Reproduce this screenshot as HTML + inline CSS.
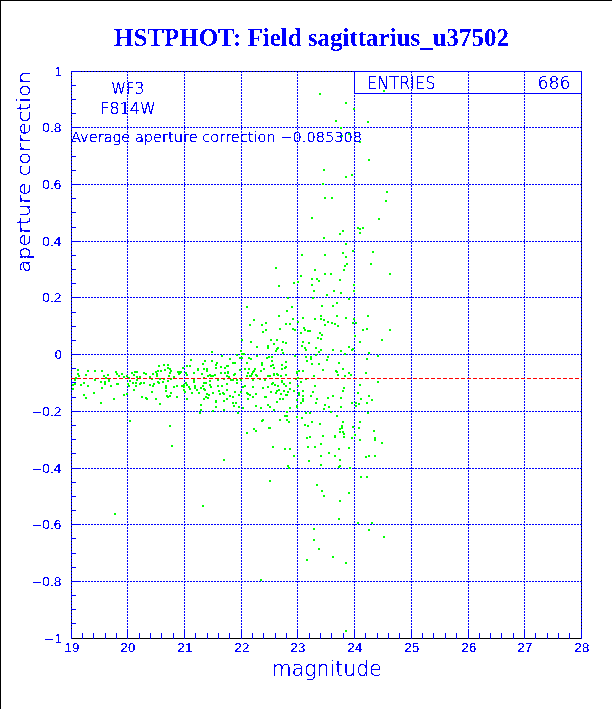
<!DOCTYPE html>
<html><head><meta charset="utf-8"><style>
html,body{margin:0;padding:0;background:#fff;}
svg{display:block;}
.lab{font-family:"Liberation Sans",sans-serif;font-size:12.5px;fill:#0000ff;}
.ttl{font-family:"DejaVu Sans","Liberation Sans",sans-serif;font-weight:200;fill:#0000ff;stroke:#0000ff;stroke-width:0.3px;}
</style></head><body>
<svg width="612" height="709" viewBox="0 0 612 709">
<rect x="0" y="0" width="612" height="709" fill="#fff"/>
<path d="M0 0H612V1H1V709H0Z" fill="#000"/>
<g shape-rendering="crispEdges">
<line x1="127.5" y1="71" x2="127.5" y2="638" stroke="#0000ff" stroke-dasharray="2 1"/>
<line x1="184.5" y1="71" x2="184.5" y2="638" stroke="#0000ff" stroke-dasharray="2 1"/>
<line x1="241.5" y1="71" x2="241.5" y2="638" stroke="#0000ff" stroke-dasharray="2 1"/>
<line x1="297.5" y1="71" x2="297.5" y2="638" stroke="#0000ff" stroke-dasharray="2 1"/>
<line x1="354.5" y1="71" x2="354.5" y2="638" stroke="#0000ff" stroke-dasharray="2 1"/>
<line x1="411.5" y1="71" x2="411.5" y2="638" stroke="#0000ff" stroke-dasharray="2 1"/>
<line x1="468.5" y1="71" x2="468.5" y2="638" stroke="#0000ff" stroke-dasharray="2 1"/>
<line x1="524.5" y1="71" x2="524.5" y2="638" stroke="#0000ff" stroke-dasharray="2 1"/>
<line x1="73" y1="127.5" x2="581" y2="127.5" stroke="#0000ff" stroke-dasharray="2 1"/>
<line x1="73" y1="184.5" x2="581" y2="184.5" stroke="#0000ff" stroke-dasharray="2 1"/>
<line x1="73" y1="241.5" x2="581" y2="241.5" stroke="#0000ff" stroke-dasharray="2 1"/>
<line x1="73" y1="297.5" x2="581" y2="297.5" stroke="#0000ff" stroke-dasharray="2 1"/>
<line x1="73" y1="354.5" x2="581" y2="354.5" stroke="#0000ff" stroke-dasharray="2 1"/>
<line x1="73" y1="411.5" x2="581" y2="411.5" stroke="#0000ff" stroke-dasharray="2 1"/>
<line x1="73" y1="468.5" x2="581" y2="468.5" stroke="#0000ff" stroke-dasharray="2 1"/>
<line x1="73" y1="524.5" x2="581" y2="524.5" stroke="#0000ff" stroke-dasharray="2 1"/>
<line x1="73" y1="581.5" x2="581" y2="581.5" stroke="#0000ff" stroke-dasharray="2 1"/>
<line x1="71.5" y1="71" x2="71.5" y2="639" stroke="#0000ff"/>
<line x1="71" y1="71.5" x2="582" y2="71.5" stroke="#0000ff"/>
<line x1="581.5" y1="71" x2="581.5" y2="639" stroke="#0000ff"/>
<line x1="71.5" y1="73" x2="71.5" y2="638" stroke="#000" stroke-dasharray="1 2"/>
<line x1="81" y1="71.5" x2="354" y2="71.5" stroke="#000" stroke-dasharray="1 2"/>
<line x1="581.5" y1="94" x2="581.5" y2="638" stroke="#000" stroke-dasharray="1 2"/>
<line x1="71" y1="638.5" x2="582" y2="638.5" stroke="#000"/>
<path d="M71.5 639V629M82.5 639V633M93.5 639V633M105.5 639V633M116.5 639V633M127.5 639V629M139.5 639V633M150.5 639V633M161.5 639V633M173.5 639V633M184.5 639V629M195.5 639V633M207.5 639V633M218.5 639V633M229.5 639V633M241.5 639V629M252.5 639V633M263.5 639V633M275.5 639V633M286.5 639V633M297.5 639V629M309.5 639V633M320.5 639V633M331.5 639V633M343.5 639V633M354.5 639V629M365.5 639V633M377.5 639V633M388.5 639V633M399.5 639V633M411.5 639V629M422.5 639V633M433.5 639V633M445.5 639V633M456.5 639V633M468.5 639V629M479.5 639V633M490.5 639V633M501.5 639V633M513.5 639V633M524.5 639V629M535.5 639V633M547.5 639V633M558.5 639V633M569.5 639V633M581.5 639V629M71 71.5H81M71 85.5H76M71 99.5H76M71 113.5H76M71 127.5H81M71 141.5H76M71 156.5H76M71 170.5H76M71 184.5H81M71 198.5H76M71 212.5H76M71 227.5H76M71 241.5H81M71 255.5H76M71 269.5H76M71 283.5H76M71 297.5H81M71 312.5H76M71 326.5H76M71 340.5H76M71 354.5H81M71 368.5H76M71 382.5H76M71 397.5H76M71 411.5H81M71 425.5H76M71 439.5H76M71 453.5H76M71 468.5H81M71 482.5H76M71 496.5H76M71 510.5H76M71 524.5H81M71 538.5H76M71 553.5H76M71 567.5H76M71 581.5H81M71 595.5H76M71 609.5H76M71 623.5H76" stroke="#0000ff" fill="none"/>
<g fill="#00ff00"><rect x="319" y="93" width="2" height="2"/><rect x="345" y="102" width="2" height="2"/><rect x="353" y="108" width="2" height="2"/><rect x="335" y="120" width="2" height="2"/><rect x="367" y="121" width="2" height="2"/><rect x="340" y="127" width="2" height="2"/><rect x="359" y="141" width="2" height="2"/><rect x="368" y="159" width="2" height="2"/><rect x="323" y="169" width="2" height="2"/><rect x="383" y="90" width="2" height="2"/><rect x="341" y="135" width="2" height="2"/><rect x="348" y="133" width="2" height="2"/><rect x="345" y="176" width="2" height="2"/><rect x="351" y="174" width="2" height="2"/><rect x="322" y="183" width="2" height="2"/><rect x="386" y="191" width="2" height="2"/><rect x="324" y="197" width="2" height="2"/><rect x="331" y="197" width="2" height="2"/><rect x="385" y="200" width="2" height="2"/><rect x="311" y="217" width="2" height="2"/><rect x="378" y="218" width="2" height="2"/><rect x="357" y="227" width="2" height="2"/><rect x="359" y="228" width="2" height="2"/><rect x="362" y="227" width="2" height="2"/><rect x="359" y="232" width="2" height="2"/><rect x="342" y="230" width="2" height="2"/><rect x="339" y="233" width="2" height="2"/><rect x="323" y="237" width="2" height="2"/><rect x="345" y="243" width="2" height="2"/><rect x="352" y="250" width="2" height="2"/><rect x="372" y="251" width="2" height="2"/><rect x="301" y="254" width="2" height="2"/><rect x="324" y="254" width="2" height="2"/><rect x="342" y="252" width="2" height="2"/><rect x="345" y="256" width="2" height="2"/><rect x="346" y="263" width="2" height="2"/><rect x="344" y="265" width="2" height="2"/><rect x="370" y="263" width="2" height="2"/><rect x="314" y="269" width="2" height="2"/><rect x="343" y="269" width="2" height="2"/><rect x="275" y="267" width="2" height="2"/><rect x="300" y="275" width="2" height="2"/><rect x="293" y="282" width="2" height="2"/><rect x="297" y="281" width="2" height="2"/><rect x="278" y="285" width="2" height="2"/><rect x="287" y="297" width="2" height="2"/><rect x="246" y="306" width="2" height="2"/><rect x="291" y="306" width="2" height="2"/><rect x="286" y="310" width="2" height="2"/><rect x="278" y="315" width="2" height="2"/><rect x="253" y="319" width="2" height="2"/><rect x="249" y="324" width="2" height="2"/><rect x="261" y="324" width="2" height="2"/><rect x="265" y="322" width="2" height="2"/><rect x="285" y="323" width="2" height="2"/><rect x="289" y="323" width="2" height="2"/><rect x="292" y="318" width="2" height="2"/><rect x="302" y="317" width="2" height="2"/><rect x="297" y="321" width="2" height="2"/><rect x="262" y="331" width="2" height="2"/><rect x="265" y="329" width="2" height="2"/><rect x="279" y="328" width="2" height="2"/><rect x="292" y="328" width="2" height="2"/><rect x="294" y="329" width="2" height="2"/><rect x="303" y="327" width="2" height="2"/><rect x="304" y="329" width="2" height="2"/><rect x="300" y="332" width="2" height="2"/><rect x="307" y="330" width="2" height="2"/><rect x="309" y="330" width="2" height="2"/><rect x="241" y="339" width="2" height="2"/><rect x="270" y="339" width="2" height="2"/><rect x="276" y="339" width="2" height="2"/><rect x="324" y="273" width="2" height="2"/><rect x="330" y="273" width="2" height="2"/><rect x="389" y="273" width="2" height="2"/><rect x="311" y="278" width="2" height="2"/><rect x="316" y="278" width="2" height="2"/><rect x="318" y="280" width="2" height="2"/><rect x="339" y="279" width="2" height="2"/><rect x="311" y="284" width="2" height="2"/><rect x="353" y="284" width="2" height="2"/><rect x="313" y="290" width="2" height="2"/><rect x="333" y="290" width="2" height="2"/><rect x="353" y="290" width="2" height="2"/><rect x="326" y="294" width="2" height="2"/><rect x="340" y="292" width="2" height="2"/><rect x="312" y="297" width="2" height="2"/><rect x="348" y="298" width="2" height="2"/><rect x="336" y="302" width="2" height="2"/><rect x="321" y="305" width="2" height="2"/><rect x="332" y="305" width="2" height="2"/><rect x="320" y="315" width="2" height="2"/><rect x="336" y="315" width="2" height="2"/><rect x="314" y="318" width="2" height="2"/><rect x="320" y="318" width="2" height="2"/><rect x="323" y="319" width="2" height="2"/><rect x="345" y="317" width="2" height="2"/><rect x="353" y="318" width="2" height="2"/><rect x="367" y="315" width="2" height="2"/><rect x="327" y="321" width="2" height="2"/><rect x="331" y="322" width="2" height="2"/><rect x="334" y="323" width="2" height="2"/><rect x="324" y="324" width="2" height="2"/><rect x="337" y="325" width="2" height="2"/><rect x="352" y="322" width="2" height="2"/><rect x="355" y="322" width="2" height="2"/><rect x="362" y="329" width="2" height="2"/><rect x="366" y="328" width="2" height="2"/><rect x="389" y="329" width="2" height="2"/><rect x="319" y="332" width="2" height="2"/><rect x="321" y="334" width="2" height="2"/><rect x="317" y="337" width="2" height="2"/><rect x="320" y="338" width="2" height="2"/><rect x="354" y="335" width="2" height="2"/><rect x="381" y="339" width="2" height="2"/><rect x="77" y="369" width="2" height="2"/><rect x="87" y="370" width="2" height="2"/><rect x="94" y="370" width="2" height="2"/><rect x="101" y="370" width="2" height="2"/><rect x="77" y="373" width="2" height="2"/><rect x="78" y="375" width="2" height="2"/><rect x="85" y="374" width="2" height="2"/><rect x="103" y="375" width="2" height="2"/><rect x="107" y="374" width="2" height="2"/><rect x="115" y="371" width="2" height="2"/><rect x="116" y="373" width="2" height="2"/><rect x="118" y="375" width="2" height="2"/><rect x="121" y="373" width="2" height="2"/><rect x="123" y="376" width="2" height="2"/><rect x="126" y="375" width="2" height="2"/><rect x="75" y="377" width="2" height="2"/><rect x="105" y="377" width="2" height="2"/><rect x="74" y="379" width="2" height="2"/><rect x="108" y="378" width="2" height="2"/><rect x="108" y="380" width="2" height="2"/><rect x="94" y="379" width="2" height="2"/><rect x="128" y="377" width="2" height="2"/><rect x="129" y="380" width="2" height="2"/><rect x="100" y="381" width="2" height="2"/><rect x="104" y="381" width="2" height="2"/><rect x="104" y="383" width="2" height="2"/><rect x="83" y="382" width="2" height="2"/><rect x="72" y="384" width="2" height="2"/><rect x="74" y="383" width="2" height="2"/><rect x="80" y="384" width="2" height="2"/><rect x="87" y="385" width="2" height="2"/><rect x="116" y="383" width="2" height="2"/><rect x="117" y="383" width="2" height="2"/><rect x="110" y="385" width="2" height="2"/><rect x="127" y="383" width="2" height="2"/><rect x="128" y="385" width="2" height="2"/><rect x="101" y="387" width="2" height="2"/><rect x="72" y="388" width="2" height="2"/><rect x="93" y="392" width="2" height="2"/><rect x="83" y="394" width="2" height="2"/><rect x="85" y="397" width="2" height="2"/><rect x="126" y="393" width="2" height="2"/><rect x="123" y="394" width="2" height="2"/><rect x="113" y="398" width="2" height="2"/><rect x="100" y="402" width="2" height="2"/><rect x="129" y="420" width="2" height="2"/><rect x="158" y="365" width="2" height="2"/><rect x="163" y="364" width="2" height="2"/><rect x="167" y="364" width="2" height="2"/><rect x="167" y="367" width="2" height="2"/><rect x="169" y="368" width="2" height="2"/><rect x="170" y="370" width="2" height="2"/><rect x="169" y="372" width="2" height="2"/><rect x="168" y="375" width="2" height="2"/><rect x="157" y="370" width="2" height="2"/><rect x="155" y="371" width="2" height="2"/><rect x="160" y="370" width="2" height="2"/><rect x="164" y="369" width="2" height="2"/><rect x="156" y="373" width="2" height="2"/><rect x="156" y="375" width="2" height="2"/><rect x="152" y="373" width="2" height="2"/><rect x="149" y="376" width="2" height="2"/><rect x="131" y="372" width="2" height="2"/><rect x="134" y="371" width="2" height="2"/><rect x="136" y="371" width="2" height="2"/><rect x="133" y="374" width="2" height="2"/><rect x="136" y="376" width="2" height="2"/><rect x="139" y="376" width="2" height="2"/><rect x="143" y="372" width="2" height="2"/><rect x="145" y="373" width="2" height="2"/><rect x="178" y="371" width="2" height="2"/><rect x="179" y="372" width="2" height="2"/><rect x="180" y="371" width="2" height="2"/><rect x="177" y="371" width="2" height="2"/><rect x="178" y="373" width="2" height="2"/><rect x="182" y="367" width="2" height="2"/><rect x="186" y="365" width="2" height="2"/><rect x="185" y="372" width="2" height="2"/><rect x="186" y="374" width="2" height="2"/><rect x="173" y="376" width="2" height="2"/><rect x="151" y="378" width="2" height="2"/><rect x="159" y="378" width="2" height="2"/><rect x="163" y="378" width="2" height="2"/><rect x="170" y="378" width="2" height="2"/><rect x="136" y="379" width="2" height="2"/><rect x="162" y="381" width="2" height="2"/><rect x="167" y="380" width="2" height="2"/><rect x="132" y="382" width="2" height="2"/><rect x="135" y="382" width="2" height="2"/><rect x="135" y="385" width="2" height="2"/><rect x="140" y="382" width="2" height="2"/><rect x="139" y="383" width="2" height="2"/><rect x="143" y="382" width="2" height="2"/><rect x="157" y="381" width="2" height="2"/><rect x="158" y="382" width="2" height="2"/><rect x="149" y="384" width="2" height="2"/><rect x="152" y="385" width="2" height="2"/><rect x="153" y="383" width="2" height="2"/><rect x="165" y="385" width="2" height="2"/><rect x="165" y="387" width="2" height="2"/><rect x="165" y="390" width="2" height="2"/><rect x="173" y="386" width="2" height="2"/><rect x="176" y="385" width="2" height="2"/><rect x="181" y="385" width="2" height="2"/><rect x="183" y="384" width="2" height="2"/><rect x="185" y="382" width="2" height="2"/><rect x="186" y="384" width="2" height="2"/><rect x="183" y="386" width="2" height="2"/><rect x="183" y="389" width="2" height="2"/><rect x="184" y="391" width="2" height="2"/><rect x="133" y="389" width="2" height="2"/><rect x="151" y="391" width="2" height="2"/><rect x="170" y="392" width="2" height="2"/><rect x="166" y="395" width="2" height="2"/><rect x="169" y="395" width="2" height="2"/><rect x="167" y="396" width="2" height="2"/><rect x="176" y="396" width="2" height="2"/><rect x="141" y="396" width="2" height="2"/><rect x="145" y="397" width="2" height="2"/><rect x="146" y="398" width="2" height="2"/><rect x="155" y="398" width="2" height="2"/><rect x="159" y="403" width="2" height="2"/><rect x="186" y="398" width="2" height="2"/><rect x="169" y="425" width="2" height="2"/><rect x="240" y="350" width="2" height="2"/><rect x="211" y="351" width="2" height="2"/><rect x="221" y="355" width="2" height="2"/><rect x="236" y="354" width="2" height="2"/><rect x="241" y="353" width="2" height="2"/><rect x="243" y="353" width="2" height="2"/><rect x="239" y="357" width="2" height="2"/><rect x="241" y="357" width="2" height="2"/><rect x="229" y="358" width="2" height="2"/><rect x="190" y="359" width="2" height="2"/><rect x="204" y="360" width="2" height="2"/><rect x="211" y="360" width="2" height="2"/><rect x="202" y="363" width="2" height="2"/><rect x="216" y="362" width="2" height="2"/><rect x="215" y="364" width="2" height="2"/><rect x="232" y="362" width="2" height="2"/><rect x="234" y="362" width="2" height="2"/><rect x="189" y="365" width="2" height="2"/><rect x="215" y="367" width="2" height="2"/><rect x="220" y="366" width="2" height="2"/><rect x="224" y="367" width="2" height="2"/><rect x="226" y="365" width="2" height="2"/><rect x="227" y="365" width="2" height="2"/><rect x="197" y="368" width="2" height="2"/><rect x="197" y="369" width="2" height="2"/><rect x="203" y="368" width="2" height="2"/><rect x="206" y="368" width="2" height="2"/><rect x="206" y="370" width="2" height="2"/><rect x="239" y="369" width="2" height="2"/><rect x="244" y="368" width="2" height="2"/><rect x="193" y="372" width="2" height="2"/><rect x="201" y="373" width="2" height="2"/><rect x="220" y="372" width="2" height="2"/><rect x="224" y="372" width="2" height="2"/><rect x="227" y="371" width="2" height="2"/><rect x="227" y="372" width="2" height="2"/><rect x="234" y="373" width="2" height="2"/><rect x="233" y="374" width="2" height="2"/><rect x="207" y="375" width="2" height="2"/><rect x="209" y="374" width="2" height="2"/><rect x="210" y="375" width="2" height="2"/><rect x="212" y="375" width="2" height="2"/><rect x="214" y="374" width="2" height="2"/><rect x="226" y="375" width="2" height="2"/><rect x="228" y="376" width="2" height="2"/><rect x="203" y="377" width="2" height="2"/><rect x="193" y="379" width="2" height="2"/><rect x="193" y="381" width="2" height="2"/><rect x="217" y="379" width="2" height="2"/><rect x="223" y="378" width="2" height="2"/><rect x="230" y="379" width="2" height="2"/><rect x="232" y="379" width="2" height="2"/><rect x="236" y="379" width="2" height="2"/><rect x="236" y="382" width="2" height="2"/><rect x="240" y="379" width="2" height="2"/><rect x="194" y="385" width="2" height="2"/><rect x="188" y="386" width="2" height="2"/><rect x="189" y="388" width="2" height="2"/><rect x="194" y="387" width="2" height="2"/><rect x="196" y="389" width="2" height="2"/><rect x="203" y="382" width="2" height="2"/><rect x="205" y="382" width="2" height="2"/><rect x="209" y="380" width="2" height="2"/><rect x="202" y="385" width="2" height="2"/><rect x="200" y="387" width="2" height="2"/><rect x="203" y="388" width="2" height="2"/><rect x="204" y="389" width="2" height="2"/><rect x="209" y="384" width="2" height="2"/><rect x="210" y="386" width="2" height="2"/><rect x="217" y="385" width="2" height="2"/><rect x="221" y="385" width="2" height="2"/><rect x="226" y="383" width="2" height="2"/><rect x="226" y="389" width="2" height="2"/><rect x="242" y="386" width="2" height="2"/><rect x="244" y="385" width="2" height="2"/><rect x="191" y="392" width="2" height="2"/><rect x="198" y="392" width="2" height="2"/><rect x="212" y="392" width="2" height="2"/><rect x="218" y="390" width="2" height="2"/><rect x="219" y="393" width="2" height="2"/><rect x="222" y="392" width="2" height="2"/><rect x="223" y="393" width="2" height="2"/><rect x="234" y="391" width="2" height="2"/><rect x="240" y="391" width="2" height="2"/><rect x="238" y="394" width="2" height="2"/><rect x="206" y="393" width="2" height="2"/><rect x="208" y="394" width="2" height="2"/><rect x="205" y="396" width="2" height="2"/><rect x="207" y="397" width="2" height="2"/><rect x="203" y="398" width="2" height="2"/><rect x="229" y="395" width="2" height="2"/><rect x="232" y="396" width="2" height="2"/><rect x="226" y="398" width="2" height="2"/><rect x="215" y="400" width="2" height="2"/><rect x="215" y="401" width="2" height="2"/><rect x="223" y="400" width="2" height="2"/><rect x="232" y="402" width="2" height="2"/><rect x="235" y="402" width="2" height="2"/><rect x="233" y="405" width="2" height="2"/><rect x="200" y="404" width="2" height="2"/><rect x="215" y="406" width="2" height="2"/><rect x="238" y="406" width="2" height="2"/><rect x="242" y="407" width="2" height="2"/><rect x="200" y="409" width="2" height="2"/><rect x="223" y="409" width="2" height="2"/><rect x="199" y="412" width="2" height="2"/><rect x="212" y="410" width="2" height="2"/><rect x="237" y="412" width="2" height="2"/><rect x="250" y="341" width="2" height="2"/><rect x="282" y="341" width="2" height="2"/><rect x="285" y="342" width="2" height="2"/><rect x="273" y="343" width="2" height="2"/><rect x="302" y="341" width="2" height="2"/><rect x="301" y="345" width="2" height="2"/><rect x="256" y="346" width="2" height="2"/><rect x="267" y="345" width="2" height="2"/><rect x="267" y="347" width="2" height="2"/><rect x="277" y="347" width="2" height="2"/><rect x="276" y="348" width="2" height="2"/><rect x="275" y="350" width="2" height="2"/><rect x="281" y="349" width="2" height="2"/><rect x="282" y="352" width="2" height="2"/><rect x="256" y="355" width="2" height="2"/><rect x="248" y="357" width="2" height="2"/><rect x="250" y="358" width="2" height="2"/><rect x="266" y="357" width="2" height="2"/><rect x="268" y="356" width="2" height="2"/><rect x="271" y="356" width="2" height="2"/><rect x="294" y="355" width="2" height="2"/><rect x="271" y="360" width="2" height="2"/><rect x="246" y="362" width="2" height="2"/><rect x="261" y="362" width="2" height="2"/><rect x="261" y="364" width="2" height="2"/><rect x="285" y="361" width="2" height="2"/><rect x="270" y="365" width="2" height="2"/><rect x="272" y="364" width="2" height="2"/><rect x="273" y="367" width="2" height="2"/><rect x="281" y="364" width="2" height="2"/><rect x="285" y="366" width="2" height="2"/><rect x="284" y="367" width="2" height="2"/><rect x="281" y="368" width="2" height="2"/><rect x="248" y="368" width="2" height="2"/><rect x="254" y="368" width="2" height="2"/><rect x="263" y="368" width="2" height="2"/><rect x="260" y="370" width="2" height="2"/><rect x="253" y="370" width="2" height="2"/><rect x="252" y="371" width="2" height="2"/><rect x="247" y="372" width="2" height="2"/><rect x="251" y="373" width="2" height="2"/><rect x="296" y="371" width="2" height="2"/><rect x="298" y="370" width="2" height="2"/><rect x="296" y="372" width="2" height="2"/><rect x="302" y="370" width="2" height="2"/><rect x="273" y="373" width="2" height="2"/><rect x="273" y="374" width="2" height="2"/><rect x="276" y="373" width="2" height="2"/><rect x="277" y="374" width="2" height="2"/><rect x="246" y="375" width="2" height="2"/><rect x="249" y="375" width="2" height="2"/><rect x="250" y="375" width="2" height="2"/><rect x="255" y="374" width="2" height="2"/><rect x="256" y="375" width="2" height="2"/><rect x="267" y="375" width="2" height="2"/><rect x="269" y="375" width="2" height="2"/><rect x="280" y="375" width="2" height="2"/><rect x="285" y="374" width="2" height="2"/><rect x="252" y="379" width="2" height="2"/><rect x="259" y="378" width="2" height="2"/><rect x="264" y="379" width="2" height="2"/><rect x="295" y="378" width="2" height="2"/><rect x="297" y="377" width="2" height="2"/><rect x="281" y="380" width="2" height="2"/><rect x="281" y="381" width="2" height="2"/><rect x="300" y="381" width="2" height="2"/><rect x="283" y="383" width="2" height="2"/><rect x="289" y="382" width="2" height="2"/><rect x="272" y="382" width="2" height="2"/><rect x="271" y="383" width="2" height="2"/><rect x="274" y="384" width="2" height="2"/><rect x="277" y="385" width="2" height="2"/><rect x="285" y="385" width="2" height="2"/><rect x="297" y="385" width="2" height="2"/><rect x="252" y="386" width="2" height="2"/><rect x="267" y="386" width="2" height="2"/><rect x="262" y="387" width="2" height="2"/><rect x="278" y="389" width="2" height="2"/><rect x="276" y="390" width="2" height="2"/><rect x="289" y="388" width="2" height="2"/><rect x="283" y="390" width="2" height="2"/><rect x="293" y="390" width="2" height="2"/><rect x="287" y="391" width="2" height="2"/><rect x="270" y="391" width="2" height="2"/><rect x="275" y="392" width="2" height="2"/><rect x="302" y="390" width="2" height="2"/><rect x="246" y="392" width="2" height="2"/><rect x="247" y="393" width="2" height="2"/><rect x="249" y="394" width="2" height="2"/><rect x="255" y="393" width="2" height="2"/><rect x="280" y="393" width="2" height="2"/><rect x="285" y="394" width="2" height="2"/><rect x="286" y="394" width="2" height="2"/><rect x="298" y="392" width="2" height="2"/><rect x="298" y="394" width="2" height="2"/><rect x="302" y="395" width="2" height="2"/><rect x="264" y="396" width="2" height="2"/><rect x="265" y="396" width="2" height="2"/><rect x="252" y="396" width="2" height="2"/><rect x="247" y="398" width="2" height="2"/><rect x="279" y="398" width="2" height="2"/><rect x="282" y="398" width="2" height="2"/><rect x="296" y="399" width="2" height="2"/><rect x="302" y="398" width="2" height="2"/><rect x="276" y="401" width="2" height="2"/><rect x="300" y="402" width="2" height="2"/><rect x="302" y="400" width="2" height="2"/><rect x="255" y="405" width="2" height="2"/><rect x="267" y="404" width="2" height="2"/><rect x="269" y="406" width="2" height="2"/><rect x="260" y="407" width="2" height="2"/><rect x="289" y="407" width="2" height="2"/><rect x="296" y="405" width="2" height="2"/><rect x="296" y="406" width="2" height="2"/><rect x="273" y="409" width="2" height="2"/><rect x="286" y="411" width="2" height="2"/><rect x="284" y="415" width="2" height="2"/><rect x="286" y="415" width="2" height="2"/><rect x="296" y="416" width="2" height="2"/><rect x="301" y="417" width="2" height="2"/><rect x="262" y="419" width="2" height="2"/><rect x="261" y="420" width="2" height="2"/><rect x="279" y="419" width="2" height="2"/><rect x="286" y="419" width="2" height="2"/><rect x="288" y="421" width="2" height="2"/><rect x="268" y="427" width="2" height="2"/><rect x="269" y="427" width="2" height="2"/><rect x="253" y="428" width="2" height="2"/><rect x="255" y="430" width="2" height="2"/><rect x="246" y="432" width="2" height="2"/><rect x="308" y="342" width="2" height="2"/><rect x="304" y="347" width="2" height="2"/><rect x="315" y="347" width="2" height="2"/><rect x="305" y="349" width="2" height="2"/><rect x="359" y="341" width="2" height="2"/><rect x="348" y="346" width="2" height="2"/><rect x="352" y="348" width="2" height="2"/><rect x="351" y="349" width="2" height="2"/><rect x="332" y="349" width="2" height="2"/><rect x="340" y="350" width="2" height="2"/><rect x="320" y="349" width="2" height="2"/><rect x="318" y="351" width="2" height="2"/><rect x="315" y="354" width="2" height="2"/><rect x="344" y="353" width="2" height="2"/><rect x="305" y="356" width="2" height="2"/><rect x="310" y="356" width="2" height="2"/><rect x="310" y="358" width="2" height="2"/><rect x="327" y="356" width="2" height="2"/><rect x="326" y="359" width="2" height="2"/><rect x="306" y="360" width="2" height="2"/><rect x="311" y="363" width="2" height="2"/><rect x="318" y="363" width="2" height="2"/><rect x="338" y="362" width="2" height="2"/><rect x="322" y="369" width="2" height="2"/><rect x="342" y="368" width="2" height="2"/><rect x="335" y="370" width="2" height="2"/><rect x="336" y="371" width="2" height="2"/><rect x="337" y="374" width="2" height="2"/><rect x="348" y="372" width="2" height="2"/><rect x="350" y="374" width="2" height="2"/><rect x="344" y="375" width="2" height="2"/><rect x="313" y="375" width="2" height="2"/><rect x="305" y="378" width="2" height="2"/><rect x="314" y="385" width="2" height="2"/><rect x="359" y="384" width="2" height="2"/><rect x="343" y="387" width="2" height="2"/><rect x="342" y="390" width="2" height="2"/><rect x="312" y="391" width="2" height="2"/><rect x="357" y="392" width="2" height="2"/><rect x="310" y="395" width="2" height="2"/><rect x="332" y="395" width="2" height="2"/><rect x="316" y="398" width="2" height="2"/><rect x="327" y="397" width="2" height="2"/><rect x="340" y="397" width="2" height="2"/><rect x="360" y="398" width="2" height="2"/><rect x="315" y="402" width="2" height="2"/><rect x="351" y="402" width="2" height="2"/><rect x="355" y="402" width="2" height="2"/><rect x="358" y="403" width="2" height="2"/><rect x="355" y="405" width="2" height="2"/><rect x="324" y="404" width="2" height="2"/><rect x="328" y="406" width="2" height="2"/><rect x="340" y="406" width="2" height="2"/><rect x="323" y="408" width="2" height="2"/><rect x="305" y="412" width="2" height="2"/><rect x="309" y="412" width="2" height="2"/><rect x="330" y="411" width="2" height="2"/><rect x="336" y="415" width="2" height="2"/><rect x="311" y="421" width="2" height="2"/><rect x="304" y="424" width="2" height="2"/><rect x="307" y="425" width="2" height="2"/><rect x="319" y="423" width="2" height="2"/><rect x="342" y="421" width="2" height="2"/><rect x="359" y="421" width="2" height="2"/><rect x="341" y="425" width="2" height="2"/><rect x="341" y="427" width="2" height="2"/><rect x="339" y="428" width="2" height="2"/><rect x="352" y="426" width="2" height="2"/><rect x="358" y="427" width="2" height="2"/><rect x="339" y="431" width="2" height="2"/><rect x="342" y="431" width="2" height="2"/><rect x="343" y="433" width="2" height="2"/><rect x="322" y="435" width="2" height="2"/><rect x="334" y="435" width="2" height="2"/><rect x="334" y="436" width="2" height="2"/><rect x="343" y="436" width="2" height="2"/><rect x="354" y="434" width="2" height="2"/><rect x="351" y="437" width="2" height="2"/><rect x="309" y="436" width="2" height="2"/><rect x="306" y="437" width="2" height="2"/><rect x="359" y="439" width="2" height="2"/><rect x="320" y="443" width="2" height="2"/><rect x="368" y="352" width="2" height="2"/><rect x="377" y="355" width="2" height="2"/><rect x="366" y="358" width="2" height="2"/><rect x="365" y="372" width="2" height="2"/><rect x="377" y="381" width="2" height="2"/><rect x="368" y="395" width="2" height="2"/><rect x="371" y="399" width="2" height="2"/><rect x="366" y="402" width="2" height="2"/><rect x="367" y="412" width="2" height="2"/><rect x="373" y="430" width="2" height="2"/><rect x="374" y="437" width="2" height="2"/><rect x="374" y="439" width="2" height="2"/><rect x="381" y="442" width="2" height="2"/><rect x="171" y="445" width="2" height="2"/><rect x="223" y="459" width="2" height="2"/><rect x="114" y="513" width="2" height="2"/><rect x="202" y="505" width="2" height="2"/><rect x="272" y="446" width="2" height="2"/><rect x="284" y="448" width="2" height="2"/><rect x="289" y="448" width="2" height="2"/><rect x="293" y="455" width="2" height="2"/><rect x="287" y="465" width="2" height="2"/><rect x="288" y="467" width="2" height="2"/><rect x="307" y="446" width="2" height="2"/><rect x="314" y="446" width="2" height="2"/><rect x="338" y="448" width="2" height="2"/><rect x="328" y="452" width="2" height="2"/><rect x="320" y="455" width="2" height="2"/><rect x="334" y="455" width="2" height="2"/><rect x="339" y="459" width="2" height="2"/><rect x="308" y="460" width="2" height="2"/><rect x="320" y="464" width="2" height="2"/><rect x="338" y="466" width="2" height="2"/><rect x="339" y="465" width="2" height="2"/><rect x="269" y="480" width="2" height="2"/><rect x="316" y="484" width="2" height="2"/><rect x="321" y="490" width="2" height="2"/><rect x="323" y="495" width="2" height="2"/><rect x="339" y="500" width="2" height="2"/><rect x="338" y="518" width="2" height="2"/><rect x="313" y="528" width="2" height="2"/><rect x="348" y="447" width="2" height="2"/><rect x="365" y="456" width="2" height="2"/><rect x="368" y="455" width="2" height="2"/><rect x="374" y="455" width="2" height="2"/><rect x="349" y="467" width="2" height="2"/><rect x="360" y="476" width="2" height="2"/><rect x="366" y="476" width="2" height="2"/><rect x="348" y="492" width="2" height="2"/><rect x="357" y="522" width="2" height="2"/><rect x="371" y="522" width="2" height="2"/><rect x="368" y="529" width="2" height="2"/><rect x="383" y="536" width="2" height="2"/><rect x="313" y="539" width="2" height="2"/><rect x="318" y="548" width="2" height="2"/><rect x="332" y="556" width="2" height="2"/><rect x="306" y="559" width="2" height="2"/><rect x="260" y="579" width="2" height="2"/><rect x="345" y="562" width="2" height="2"/><rect x="345" y="630" width="2" height="2"/></g>
<line x1="71" y1="378.5" x2="582" y2="378.5" stroke="#ff0000" stroke-dasharray="4 2"/>
</g>
<defs>
<filter id="crispT" x="0" y="0" width="612" height="709" filterUnits="userSpaceOnUse"><feComponentTransfer><feFuncA type="discrete" tableValues="0 1"/></feComponentTransfer></filter>
<filter id="crispL" x="0" y="0" width="612" height="709" filterUnits="userSpaceOnUse"><feComponentTransfer><feFuncA type="discrete" tableValues="0 0 1 1 1"/></feComponentTransfer></filter>
<filter id="crispS" x="0" y="0" width="612" height="709" filterUnits="userSpaceOnUse"><feComponentTransfer><feFuncA type="discrete" tableValues="0 1"/></feComponentTransfer></filter>
</defs>
<g filter="url(#crispT)">
<text x="114" y="46" font-family="Liberation Serif, serif" font-weight="bold" font-size="26" fill="#0000ff" textLength="395" lengthAdjust="spacingAndGlyphs">HSTPHOT: Field sagittarius_u37502</text>
</g><g filter="url(#crispL)">
<text x="64.6" y="652" class="lab" textLength="14.6" lengthAdjust="spacingAndGlyphs">19</text>
<text x="120.6" y="652" class="lab" textLength="14.6" lengthAdjust="spacingAndGlyphs">20</text>
<text x="177.6" y="652" class="lab" textLength="14.6" lengthAdjust="spacingAndGlyphs">21</text>
<text x="234.6" y="652" class="lab" textLength="14.6" lengthAdjust="spacingAndGlyphs">22</text>
<text x="290.6" y="652" class="lab" textLength="14.6" lengthAdjust="spacingAndGlyphs">23</text>
<text x="347.6" y="652" class="lab" textLength="14.6" lengthAdjust="spacingAndGlyphs">24</text>
<text x="404.6" y="652" class="lab" textLength="14.6" lengthAdjust="spacingAndGlyphs">25</text>
<text x="461.6" y="652" class="lab" textLength="14.6" lengthAdjust="spacingAndGlyphs">26</text>
<text x="517.6" y="652" class="lab" textLength="14.6" lengthAdjust="spacingAndGlyphs">27</text>
<text x="574.6" y="652" class="lab" textLength="14.6" lengthAdjust="spacingAndGlyphs">28</text>
<text x="61.6" y="76" text-anchor="end" class="lab">1</text>
<text x="42.3" y="132" class="lab" textLength="19" lengthAdjust="spacingAndGlyphs">0.8</text>
<text x="42.3" y="189" class="lab" textLength="19" lengthAdjust="spacingAndGlyphs">0.6</text>
<text x="42.3" y="246" class="lab" textLength="19" lengthAdjust="spacingAndGlyphs">0.4</text>
<text x="42.3" y="302" class="lab" textLength="19" lengthAdjust="spacingAndGlyphs">0.2</text>
<text x="61.6" y="359" text-anchor="end" class="lab">0</text>
<text class="lab"><tspan x="32.2" y="418" style="font-size:16.5px">−</tspan><tspan x="42.30" y="416" textLength="19" lengthAdjust="spacingAndGlyphs">0.2</tspan></text>
<text class="lab"><tspan x="32.2" y="475" style="font-size:16.5px">−</tspan><tspan x="42.30" y="473" textLength="19" lengthAdjust="spacingAndGlyphs">0.4</tspan></text>
<text class="lab"><tspan x="32.2" y="531" style="font-size:16.5px">−</tspan><tspan x="42.30" y="529" textLength="19" lengthAdjust="spacingAndGlyphs">0.6</tspan></text>
<text class="lab"><tspan x="32.2" y="588" style="font-size:16.5px">−</tspan><tspan x="42.30" y="586" textLength="19" lengthAdjust="spacingAndGlyphs">0.8</tspan></text>
<text class="lab"><tspan x="44.2" y="645" style="font-size:16.5px">−</tspan><tspan x="54.65" y="643">1</tspan></text>
</g><g filter="url(#crispS)">
<text x="271.8" y="676" class="ttl" font-size="21" style="stroke-width:0.25px" textLength="110" lengthAdjust="spacingAndGlyphs">magnitude</text>
<text transform="translate(30,272.5) rotate(-90)" x="0" y="0" class="ttl" font-size="18" style="stroke-width:0.4px" textLength="201.5" lengthAdjust="spacingAndGlyphs">aperture correction</text>
<text x="111.3" y="94" class="ttl" font-size="16.5" textLength="33" lengthAdjust="spacingAndGlyphs">WF3</text>
<text x="100.3" y="114" class="ttl" font-size="16" textLength="55.5" lengthAdjust="spacingAndGlyphs">F814W</text>
<text x="71" y="142" class="ttl" font-size="13.7" textLength="291" lengthAdjust="spacingAndGlyphs">Average aperture correction −0.085308</text>
<rect x="354.5" y="71.5" width="227" height="22" fill="none" stroke="#0000ff"/>
<text x="367" y="89" class="ttl" font-size="18" textLength="68.5" lengthAdjust="spacingAndGlyphs">ENTRIES</text>
<text x="537.5" y="89" class="ttl" font-size="17.5" textLength="33" lengthAdjust="spacingAndGlyphs">686</text>
</g>
</svg>
</body></html>
